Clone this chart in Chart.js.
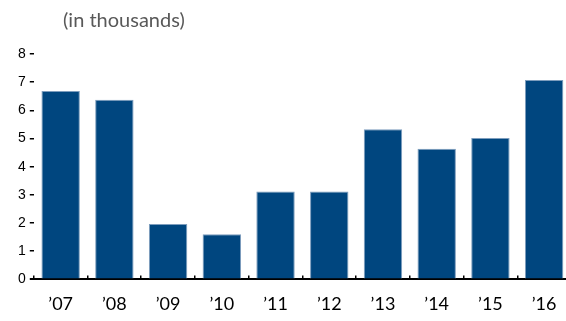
<!DOCTYPE html>
<html>
<head>
<meta charset="utf-8">
<script src="https://cdn.jsdelivr.net/npm/chart.js@4"></script>
<style>
  html, body { margin: 0; padding: 0; overflow: hidden; background: #fff; }
  #wrap { position: relative; width: 566px; height: 321px; overflow: hidden; }
  #unit {
    position: absolute; left: 63px; top: 7px;
    font: 20px Lato, "Open Sans", sans-serif; color: #595959;
  }
  canvas { position: absolute; left: 0; top: 0; }
</style>
</head>
<body>
<div id="wrap">
  <canvas id="units" width="580" height="321" style="width:580px;height:321px"></canvas>
  <div id="unit">(in thousands)</div>
</div>
<script>
const years = ['\u201907', '\u201908', '\u201909', '\u201910', '\u201911', '\u201912', '\u201913', '\u201914', '\u201915', '\u201916'];
const units = [6.69, 6.38, 1.97, 1.60, 3.12, 3.12, 5.33, 4.64, 5.02, 7.08];
const yTicks = [0, 1, 2, 3, 4, 5, 6, 7, 8];

new Chart(document.getElementById('units'), {
    type: 'bar',
    data: {
        labels: years,
        datasets: [
            {
                label: 'Units',
                data: units,
                backgroundColor: '#00467F',
                borderColor: '#7d9dbd',
                borderWidth: 1,
                categoryPercentage: 1,
                barPercentage: 0.715
            }
        ]
    },
    options: {
        responsive: false,
        animation: false,
        layout: { padding: { top: 54, left: 14, right: 9, bottom: -12 } },
        plugins: {
            legend: { display: false },
            tooltip: { enabled: false }
        },
        scales: {
            x: {
                offset: true,
                border: { display: true, color: '#000', width: 2 },
                grid: {
                    offset: true,
                    drawOnChartArea: false,
                    drawTicks: true,
                    tickLength: -4,
                    color: '#000',
                    lineWidth: 1.5
                },
                ticks: {
                    padding: 18,
                    color: '#000',
                    font: { family: 'Lato', size: 18 }
                }
            },
            y: {
                min: yTicks[0],
                max: yTicks[yTicks.length - 1],
                afterBuildTicks: (axis) => { axis.ticks = yTicks.map(v => ({ value: v })); },
                border: { display: false },
                grid: {
                    drawOnChartArea: false,
                    tickLength: 4,
                    color: '#000',
                    lineWidth: (ctx) => ctx.tick && ctx.tick.value === 0 ? 2 : 1.5
                },
                ticks: {
                    padding: 4,
                    color: '#000',
                    font: { family: 'Liberation Sans', size: 14 }
                }
            }
        }
    }
});
</script>
</body>
</html>
